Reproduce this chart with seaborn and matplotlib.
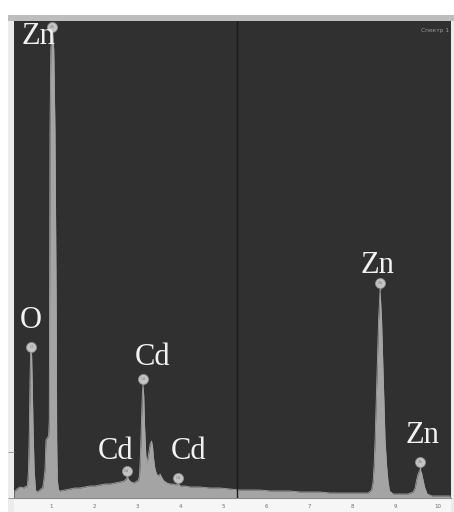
import matplotlib
matplotlib.use("Agg")
import matplotlib.pyplot as plt
from matplotlib.patches import Rectangle
from matplotlib.ticker import MultipleLocator, FixedLocator, NullFormatter
import seaborn as sns
import pandas as pd

# ---------------- data ----------------
energy_kev = [0.140, 0.209, 0.279, 0.372, 0.419, 0.449, 0.477, 0.495, 0.512, 0.526,
              0.535, 0.547, 0.563, 0.586, 0.609, 0.640, 0.674, 0.744, 0.791, 0.807,
              0.833, 0.860, 0.884, 0.944, 0.960, 0.967, 0.977, 0.995, 1.030, 1.065,
              1.093, 1.121, 1.133, 1.147, 1.174, 1.209, 1.326, 1.442, 1.558, 1.674,
              1.791, 1.907, 2.023, 2.140, 2.256, 2.372, 2.488, 2.605, 2.698, 2.744,
              2.779, 2.814, 2.860, 2.930, 3.000, 3.023, 3.058, 3.077, 3.100, 3.123,
              3.140, 3.156, 3.177, 3.205, 3.233, 3.267, 3.302, 3.337, 3.360, 3.384,
              3.414, 3.453, 3.500, 3.535, 3.581, 3.628, 3.698, 3.767, 3.837, 3.907,
              3.953, 4.000, 4.116, 4.233, 4.465, 4.698, 4.930, 5.163, 5.395, 5.628,
              5.860, 6.093, 6.326, 6.558, 6.791, 7.023, 7.256, 7.488, 7.721, 7.953,
              8.186, 8.372, 8.453, 8.488, 8.512, 8.535, 8.558, 8.581, 8.616, 8.651,
              8.686, 8.721, 8.744, 8.767, 8.802, 8.837, 8.872, 8.953, 9.116, 9.302,
              9.419, 9.465, 9.500, 9.535, 9.565, 9.588, 9.616, 9.651, 9.686, 9.744,
              9.860, 10.047, 10.279]
counts = [131, 196, 240, 218, 262, 218, 610, 1417, 2572, 3226,
          3292, 3226, 2572, 1417, 610, 174, 131, 174, 218, 218,
          392, 610, 1264, 1352, 1700, 4316, 8022, 9766, 10268, 9766,
          8022, 4316, 1264, 392, 174, 153, 174, 196, 218, 218,
          240, 262, 262, 283, 305, 305, 327, 349, 371, 414,
          458, 392, 349, 327, 371, 371, 480, 872, 1548, 2245,
          2463, 2245, 1548, 937, 763, 937, 1155, 1243, 1134, 872,
          654, 523, 480, 523, 436, 371, 327, 305, 305, 283,
          327, 262, 262, 240, 240, 218, 218, 196, 174, 174,
          174, 153, 153, 153, 131, 131, 131, 109, 109, 109,
          109, 109, 174, 349, 719, 1264, 2027, 2725, 3880, 4534,
          3880, 2725, 2027, 1264, 719, 349, 153, 87, 87, 87,
          131, 218, 392, 523, 589, 610, 545, 392, 240, 87,
          44, 44, 44]

# peak identification markers
marker_elem = ["O", "Zn", "Cd", "Cd", "Cd", "Zn", "Zn"]
marker_kev = [0.535, 1.030, 2.760, 3.140, 3.950, 8.651, 9.588]
marker_counts = [3292, 10268, 589, 2594, 436, 4687, 785]
peak_top_counts = [3292, 10268, 458, 2463, 327, 4534, 610]

# element labels
label_text = ["Zn", "O", "Cd", "Cd", "Cd", "Zn", "Zn"]
label_kev = [0.70, 0.535, 3.35, 2.49, 4.21, 8.58, 9.63]
label_counts = [10072, 3880, 3074, 1003, 1003, 5079, 1373]

cursor_kev = 5.33
spectrum_name = "Спектр 1"
x_ticks = [1, 2, 3, 4, 5, 6, 7, 8, 9, 10]
y_ticks = [0, 1000]

df = pd.DataFrame({"energy": energy_kev, "counts": counts})
mk = pd.DataFrame({"energy": marker_kev, "counts": marker_counts})

# ---------------- figure ----------------
sns.set_theme(style="white")
plt.rcParams["font.family"] = ["DejaVu Sans"]

W, H = 454, 512
fig = plt.figure(figsize=(W / 100, H / 100), dpi=100, facecolor="white")

# surrounding panel frame
fig.add_artist(Rectangle((8 / W, 0), (W - 8) / W, (H - 15) / H,
                         transform=fig.transFigure, facecolor="#ececec",
                         edgecolor="none", zorder=-10))
fig.add_artist(Rectangle((8 / W, (H - 21) / H), (W - 8) / W, 6 / H,
                         transform=fig.transFigure, facecolor="#bdbdbd",
                         edgecolor="none", zorder=-9))
fig.add_artist(Rectangle((14 / W, 0), (451 - 14) / W, (H - 498) / H,
                         transform=fig.transFigure, facecolor="#f6f6f6",
                         edgecolor="none", zorder=-8))

ax = fig.add_axes([14 / W, (H - 498) / H, (451 - 14) / W, (498 - 21) / H])
ax.set_facecolor("#2f302f")

fill_col = "#a4a4a4"
ax.fill_between(df["energy"], 0, df["counts"], color=fill_col, linewidth=0, zorder=2)
sns.lineplot(data=df, x="energy", y="counts", ax=ax, color=fill_col,
             linewidth=0.6, zorder=3)

# cursor line
ax.axvline(cursor_kev, color="#1b1b1b", linewidth=1.0, zorder=4)

# marker stems and circles
ax.vlines(marker_kev, peak_top_counts, marker_counts, color=fill_col,
          linewidth=1.0, zorder=5)
sns.scatterplot(data=mk, x="energy", y="counts", ax=ax, s=52,
                color="#c4c4c4", edgecolor="#8e8e8e", linewidth=0.6, zorder=6)
for e, x, y in zip(marker_elem, marker_kev, marker_counts):
    ax.text(x, y, e, fontsize=2.8, color="#7a7a7a", ha="center", va="center", zorder=7)

# labels
for t, x, y in zip(label_text, label_kev, label_counts):
    ax.text(x, y, t, fontsize=22, color="#f2f2f2", ha="center", va="center",
            family=["Liberation Serif", "DejaVu Serif"], zorder=8)

ax.text(0.995, 0.985, spectrum_name, transform=ax.transAxes, fontsize=4.2,
        color="#9c9c9c", ha="right", va="top", zorder=8)

ax.set_xlim(0.14, 10.3)
ax.set_ylim(0, 10400)
ax.set_xlabel("")
ax.set_ylabel("")

ax.xaxis.set_major_locator(FixedLocator(x_ticks))
ax.xaxis.set_minor_locator(MultipleLocator(0.1))
ax.yaxis.set_major_locator(FixedLocator(y_ticks))
ax.yaxis.set_major_formatter(NullFormatter())
ax.tick_params(axis="x", which="major", direction="out", length=3, width=0.7,
               color="#8a8a8a", labelsize=4, labelcolor="#6f6f6f", pad=1.5)
ax.tick_params(axis="x", which="minor", direction="out", length=1.6, width=0.5,
               color="#9a9a9a")
ax.tick_params(axis="y", which="major", direction="out", length=4.3, width=0.7,
               color="#9a9a9a", left=True)

for side in ["top", "right", "left"]:
    ax.spines[side].set_visible(False)
ax.spines["bottom"].set_color("#8a8a8a")
ax.spines["bottom"].set_linewidth(0.8)

fig.savefig("out.png", dpi=100, facecolor="white")
